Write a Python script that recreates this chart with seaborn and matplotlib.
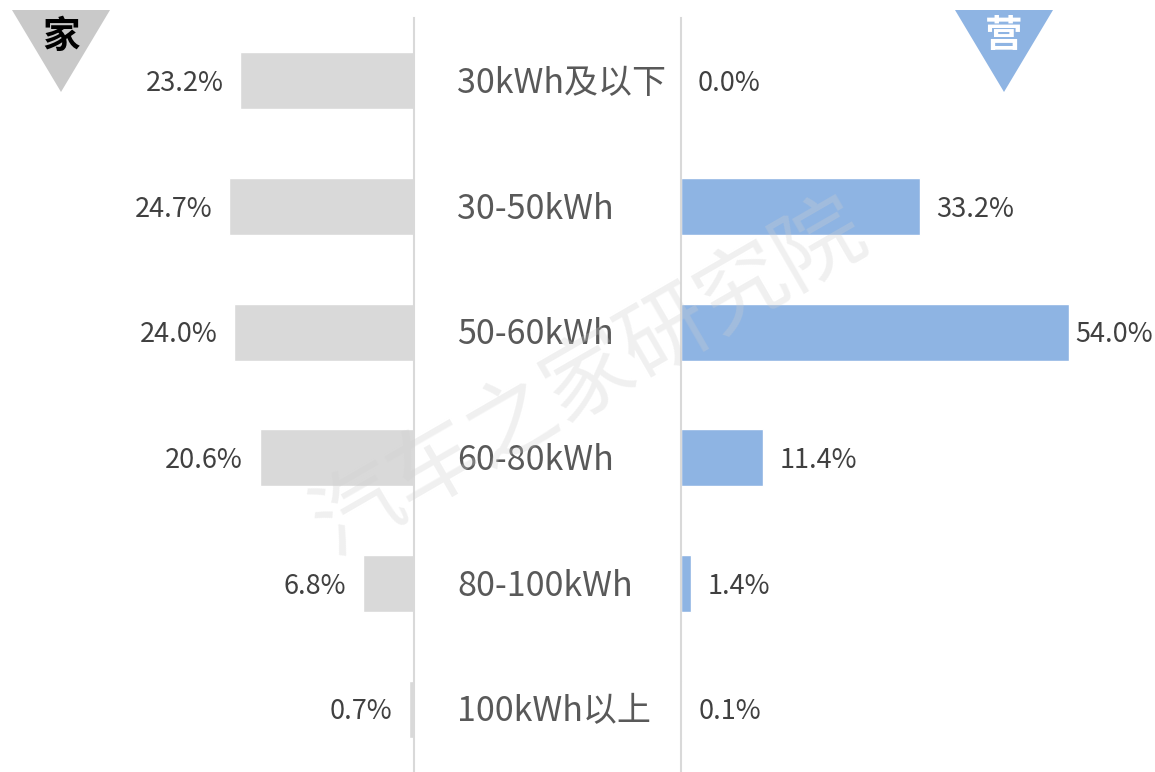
import matplotlib
matplotlib.use('Agg')
import matplotlib.pyplot as plt
import matplotlib.transforms as mtransforms
from matplotlib.patches import Polygon
import seaborn as sns
import pandas as pd

# Data
categories = ['30kWh及以下', '30-50kWh', '50-60kWh', '60-80kWh', '80-100kWh', '100kWh以上']
home_share = [23.2, 24.7, 24.0, 20.6, 6.8, 0.7]
oper_share = [0.0, 33.2, 54.0, 11.4, 1.4, 0.1]

df = pd.DataFrame({'cat': categories, 'home': home_share, 'oper': oper_share})

sns.set_theme(style='white')
plt.rcParams['font.family'] = ['Noto Sans CJK SC', 'DejaVu Sans']

GRAY = '#d9d9d9'
BLUE = '#8eb4e3'
LINE = '#d9d9d9'

fig = plt.figure(figsize=(11.55, 7.72), dpi=100)
top = 1 - 18 / 772
ax_l = fig.add_axes([0, 0, 414 / 1155, top])
ax_r = fig.add_axes([681 / 1155, 0, 474 / 1155, top])

sns.barplot(data=df, y='cat', x='home', orient='h', color=GRAY, width=0.455,
            saturation=1, ax=ax_l)
sns.barplot(data=df, y='cat', x='oper', orient='h', color=BLUE, width=0.455,
            saturation=1, ax=ax_r)

ax_l.set_xlim(55.2, 0)
ax_r.set_xlim(0, 474 / 7.19)

for ax in (ax_l, ax_r):
    ax.set_ylim(5.5, -0.5)
    ax.set_xlabel('')
    ax.set_ylabel('')
    ax.set_xticks([])
    ax.set_yticks([])
    ax.patch.set_visible(False)
    for s in ax.spines.values():
        s.set_visible(False)

ax_l.spines['right'].set_visible(True)
ax_l.spines['right'].set_color(LINE)
ax_l.spines['right'].set_linewidth(1.5)
ax_r.spines['left'].set_visible(True)
ax_r.spines['left'].set_color(LINE)
ax_r.spines['left'].set_linewidth(1.5)

# value labels (the longest right bar gets a tighter gap so it fits, like Excel)
for i, v in enumerate(home_share):
    ax_l.annotate(f'{v:.1f}%', (v, i), xytext=(-12, -2), textcoords='offset points',
                  ha='right', va='center', fontsize=19.5, color='#404040')
for i, v in enumerate(oper_share):
    dx = 4 if v == max(oper_share) else 12
    ax_r.annotate(f'{v:.1f}%', (v, i), xytext=(dx, -2), textcoords='offset points',
                  ha='left', va='center', fontsize=19.5, color='#404040')

# category labels in the middle
trans = mtransforms.blended_transform_factory(fig.transFigure, ax_l.transData)
for i, c in enumerate(categories):
    ax_l.annotate(c, (457 / 1155, i), xycoords=trans, xytext=(0, -2),
                  textcoords='offset points', ha='left', va='center',
                  fontsize=24.5, color='#595959', annotation_clip=False)

# corner triangles
W, H = 1155, 772
tri_l = Polygon([(12 / W, 1 - 10 / H), (110 / W, 1 - 10 / H), (61 / W, 1 - 92 / H)],
                closed=True, transform=fig.transFigure, facecolor='#c9c9c9',
                edgecolor='none')
tri_r = Polygon([(955 / W, 1 - 10 / H), (1053 / W, 1 - 10 / H), (1004 / W, 1 - 92 / H)],
                closed=True, transform=fig.transFigure, facecolor=BLUE,
                edgecolor='none')
fig.add_artist(tri_l)
fig.add_artist(tri_r)
fig.text(61 / W, 1 - 36 / H, '家', ha='center', va='center', fontsize=27,
         fontweight='bold', color='black')
fig.text(1004 / W, 1 - 36 / H, '营', ha='center', va='center', fontsize=27,
         fontweight='bold', color='white')

# watermark
fig.text(590 / W, 1 - 378 / H, '汽车之家研究院', ha='center', va='center',
         fontsize=64, rotation=30, color='#cfcfcf', alpha=0.3, zorder=10)

fig.savefig('out.png', dpi=100)
